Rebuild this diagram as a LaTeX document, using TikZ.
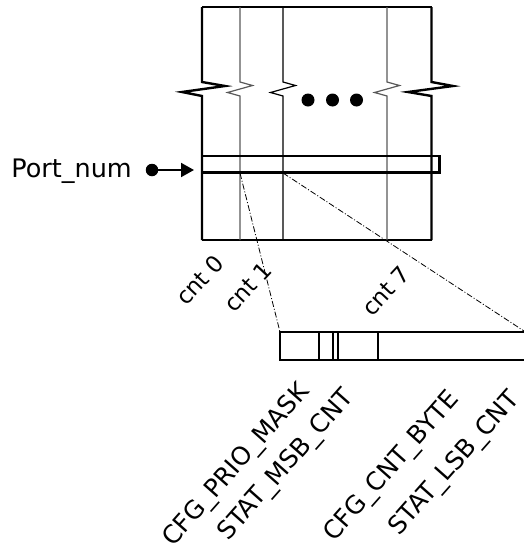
\documentclass[tikz,border=0pt]{standalone}
\usepackage{fontspec}
\setmainfont{DejaVu Sans}
\usetikzlibrary{arrows.meta}
\begin{document}
\begin{tikzpicture}[x=1pt,y=-1pt,
  outer/.style={line width=2.4pt,line join=miter},
  innergray/.style={line width=1.2pt,draw=black!65},
  innerblack/.style={line width=1.2pt,draw=black},
  dashdot/.style={line width=0.8pt,dash pattern=on 6pt off 2pt on 1pt off 2pt},
  cntlbl/.style={font=\fontsize{23}{25}\selectfont,inner sep=0pt,rotate=47},
  fldlbl/.style={font=\fontsize{25}{27}\selectfont,inner sep=0pt,rotate=48.5},
  dotstyle/.style={circle,fill=black,inner sep=0pt,minimum size=13pt}]
\useasboundingbox (0,0) rectangle (524,552);
% outer box
\draw[outer] (202,7) -- (431.5,7);
\draw[outer] (202,240) -- (431.5,240);
\draw[outer] (202,7) -- (202,82) -- (225,86) -- (182,92) -- (202,96) -- (202,240);
\draw[outer] (431.5,7) -- (431.5,82) -- (453,86) -- (408,92) -- (431.5,96) -- (431.5,240);
% inner lines
\draw[innergray] (240,7) -- (240,82) -- (252.5,85.5) -- (227.5,92.5) -- (240,96) -- (240,240);
\draw[innerblack] (283,7) -- (283,82) -- (295.5,85.5) -- (270.5,92.5) -- (283,96) -- (283,240);
\draw[innergray] (387,7) -- (387,82) -- (399.5,85.5) -- (374.5,92.5) -- (387,96) -- (387,240);
% dots
\node[dotstyle] (d1) at (308,100) {};
\node[dotstyle] (d2) at (332.5,100) {};
\node[dotstyle] (d3) at (356.5,100) {};
% port bar
\draw[line width=2.2pt] (202,156) rectangle (439.5,172.5);
\coordinate (b1) at (240,173);
\coordinate (b2) at (283,173);
% Port_num
\node[font=\fontsize{25.5}{27}\selectfont,anchor=base east,inner sep=0pt] (port) at (132,177) {Port\_num};
\node[circle,fill=black,inner sep=0pt,minimum size=12.5pt] (pdot) at (152,170) {};
\coordinate (ptip) at (194,170);
\draw[line width=2pt,-{Triangle[length=13pt,width=14pt]}] (pdot.center) -- (ptip);
% lower bar
\draw[line width=1.8pt] (526,332) -- (280,332) -- (280,360) -- (526,360);
\draw[line width=1.8pt] (319.3,332) -- (319.3,360);
\draw[line width=1.8pt] (333.3,332) -- (333.3,360);
\draw[line width=1.8pt] (338.3,332) -- (338.3,360);
\draw[line width=1.8pt] (377.7,332) -- (377.7,360);
\coordinate (l1) at (280,332);
\coordinate (l2) at (524,331);
% zoom lines
\draw[dashdot] (b1) -- (l1);
\draw[dashdot] (b2) -- (l2);
% cnt labels
\node[cntlbl] (c0) at (200,280) {cnt 0};
\node[cntlbl] (c1) at (248,287) {cnt 1};
\node[cntlbl] (c7) at (386,291) {cnt 7};
% field labels
\node[fldlbl] (f1) at (237,465.5) {CFG\_PRIO\_MASK};
\node[fldlbl] (f2) at (287,465.5) {STAT\_MSB\_CNT};
\node[fldlbl] (f3) at (392.5,467) {CFG\_CNT\_BYTE};
\node[fldlbl] (f4) at (455,464) {STAT\_LSB\_CNT};
\end{tikzpicture}
\end{document}
